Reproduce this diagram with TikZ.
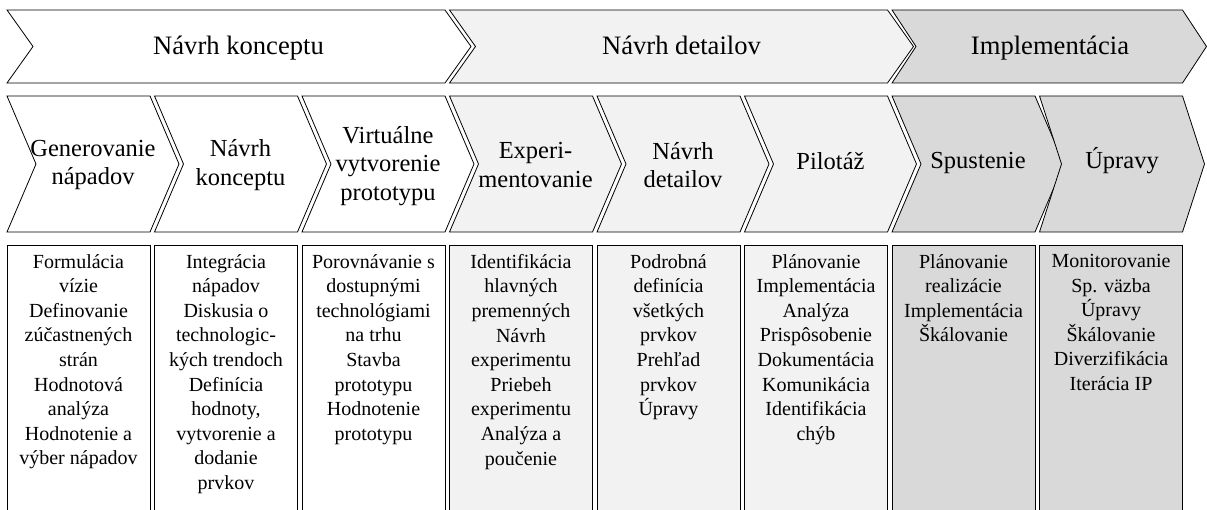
\documentclass[tikz,border=0pt]{standalone}
\usepackage{fontspec}
\setmainfont{Liberation Serif}

\definecolor{shadeA}{HTML}{FFFFFF}
\definecolor{shadeB}{HTML}{F2F2F2}
\definecolor{shadeC}{HTML}{D9D9D9}

% chevron: fill, left x, top y, bottom y, top-edge length, point depth
\newcommand{\chevshape}[6]{%
  \draw[chevline, fill=#1] (#2,#3) -- ({#2+#5},#3) -- ({#2+#5+#6},{(#3+#4)/2})
    -- ({#2+#5},#4) -- (#2,#4) -- ({#2+#6},{(#3+#4)/2}) -- cycle;}
% task column: fill, left x
\newcommand{\taskbox}[2]{%
  \draw[chevline, fill=#1] (#2,530) -- (#2,245) -- ({#2+143},245) -- ({#2+143},530);}

\tikzset{
  chevline/.style={draw=black, line width=0.8pt},
  phase/.style={font=\fontsize{26.6}{30}\selectfont, inner sep=0pt, anchor=base},
  stage/.style={font=\fontsize{24.5}{28.5}\selectfont, align=center, inner sep=0pt},
  stageone/.style={stage, anchor=base},
  task/.style={font=\fontsize{20}{24.6}\selectfont, align=center, inner sep=0pt, anchor=north},
}

\begin{document}
\begin{tikzpicture}[x=1pt, y=-1pt]
\useasboundingbox (0,0) rectangle (1207,510);
\clip (0,0) rectangle (1207,510);

% phases
\chevshape{shadeA}{7}{10}{83}{438}{26}
\chevshape{shadeB}{449.5}{10}{83}{438}{26}
\chevshape{shadeC}{892}{10}{83}{290.5}{24}
\node[phase] (p1) at (238.5,55) {Návrh konceptu};
\node[phase] (p2) at (681.5,55) {Návrh detailov};
\node[phase] (p3) at (1050,55) {Implementácia};

% stages
\chevshape{shadeA}{7}{96}{232}{143}{29}
\chevshape{shadeA}{154.5}{96}{232}{143}{29}
\chevshape{shadeA}{302}{96}{232}{143}{29}
\chevshape{shadeB}{449.5}{96}{232}{143}{29}
\chevshape{shadeB}{597}{96}{232}{143}{29}
\chevshape{shadeB}{744.5}{96}{232}{143}{29}
\chevshape{shadeC}{892}{96}{232}{143}{29}
\chevshape{shadeC}{1039.5}{96}{232}{143}{22}
\node[stage] (s1) at (93,165) {Generovanie\\nápadov};
\node[stage] (s2) at (240.5,165) {Návrh\\konceptu};
\node[stage] (s3) at (388,166) {Virtuálne\\vytvorenie\\prototypu};
\node[stage] (s4) at (535.5,165) {Experi-\\mentovanie};
\node[stage] (s5) at (683,165) {Návrh\\detailov};
\node[stageone] (s6) at (830.5,170) {Pilotáž};
\node[stageone] (s7) at (978,169) {Spustenie};
\node[stageone] (s8) at (1122,169) {Úpravy};

% activities
\taskbox{shadeA}{7}
\taskbox{shadeA}{154.5}
\taskbox{shadeA}{302}
\taskbox{shadeB}{449.5}
\taskbox{shadeB}{597}
\taskbox{shadeB}{744.5}
\taskbox{shadeC}{892}
\taskbox{shadeC}{1039.5}
\node[task] (t1) at (78.5,254) {Formulácia\\vízie\\Definovanie\\zúčastnených\\strán\\Hodnotová\\analýza\\Hodnotenie a\\výber nápadov};
\node[task] (t2) at (226,254) {Integrácia\\nápadov\\Diskusia o\\technologic-\\kých trendoch\\Definícia\\hodnoty,\\vytvorenie a\\dodanie\\prvkov};
\node[task] (t3) at (373.5,254) {Porovnávanie s\\dostupnými\\technológiami\\na trhu\\Stavba\\prototypu\\Hodnotenie\\prototypu};
\node[task] (t4) at (521,254) {Identifikácia\\hlavných\\premenných\\Návrh\\experimentu\\Priebeh\\experimentu\\Analýza a\\poučenie};
\node[task] (t5) at (668.5,254) {Podrobná\\definícia\\všetkých\\prvkov\\Prehľad\\prvkov\\Úpravy};
\node[task] (t6) at (816,254) {Plánovanie\\Implementácia\\Analýza\\Prispôsobenie\\Dokumentácia\\Komunikácia\\Identifikácia\\chýb};
\node[task] (t7) at (963.5,254) {Plánovanie\\realizácie\\Implementácia\\Škálovanie};
\node[task] (t8) at (1111,254) {Monitorovanie\\Sp. väzba\\Úpravy\\Škálovanie\\Diverzifikácia\\Iterácia IP};
\end{tikzpicture}
\end{document}
